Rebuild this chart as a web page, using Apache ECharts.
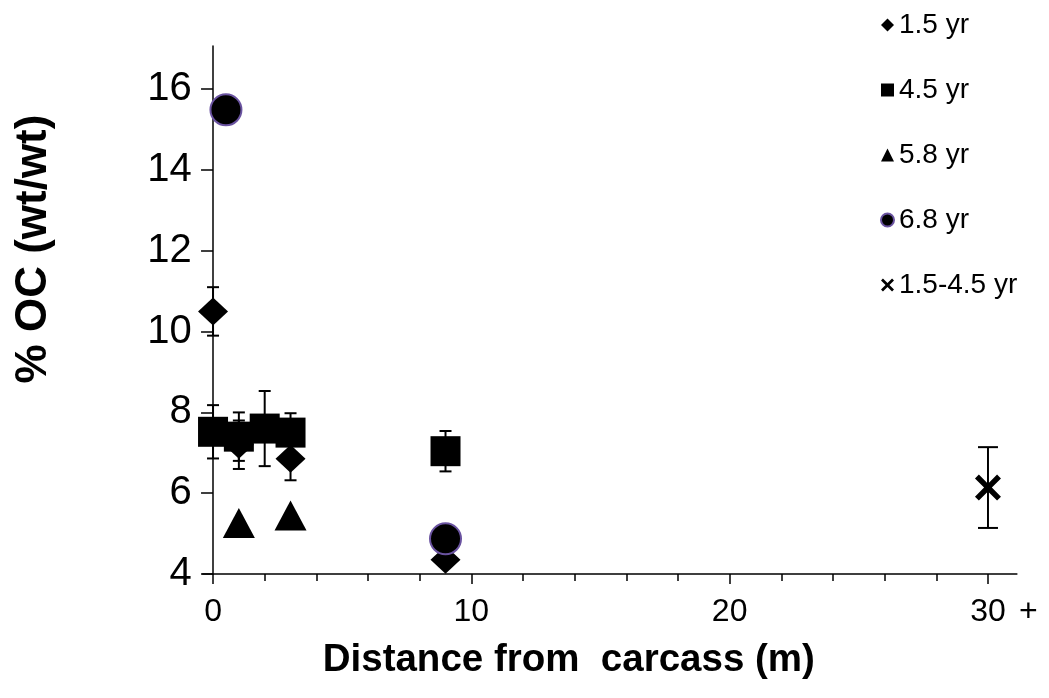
<!DOCTYPE html>
<html>
<head>
<meta charset="utf-8">
<script src="https://cdn.jsdelivr.net/npm/echarts@6/dist/echarts.min.js"></script>
<style>
html,body{margin:0;padding:0;background:#fff;}
#chart{width:1049px;height:698px;}
</style>
</head>
<body>
<div id="chart"></div>
<script>
// ---- data ----
const seriesNames = ['1.5 yr', '4.5 yr', '5.8 yr', '6.8 yr', '1.5-4.5 yr'];

const yr15X = [0, 1, 3, 9];
const yr15Y = [10.5, 7.2, 6.85, 4.35];
const yr15Err = [0.6, 0.6, 0.53, null];

const yr45X = [0, 1, 2, 3, 9];
const yr45Y = [7.52, 7.4, 7.6, 7.5, 7.04];
const yr45Err = [0.66, 0.6, 0.93, 0.48, 0.5];

const yr58X = [1, 3];
const yr58Y = [5.26, 5.45];

const yr68X = [0.5, 9];
const yr68Y = [15.49, 4.87];

const yrMixX = [30];
const yrMixY = [6.14];
const yrMixErr = [1.0];

const xLabelValues = [0, 10, 20, 30];
const xMinorTickValues = [0, 2, 4, 6, 8, 10, 12, 14, 16, 18, 20, 22, 24, 26, 28, 30];
const yTickValues = [4, 6, 8, 10, 12, 14, 16];

// ---- helpers ----
function zip(xs, ys) { return xs.map((x, i) => [x, ys[i]]); }
function zipErr(xs, ys, es) {
  const out = [];
  xs.forEach((x, i) => { if (es[i] != null) out.push([x, ys[i], es[i]]); });
  return out;
}
function errSeries(data, capHalf) {
  return {
    type: 'custom',
    silent: true,
    z: 1,
    data: data,
    encode: { x: 0, y: 1 },
    renderItem: function (params, api) {
      const x = api.value(0), y = api.value(1), e = api.value(2);
      const t = api.coord([x, y + e]);
      const b = api.coord([x, y - e]);
      const st = { stroke: '#000', lineWidth: 2 };
      return {
        type: 'group',
        children: [
          { type: 'line', shape: { x1: t[0], y1: t[1], x2: b[0], y2: b[1] }, style: st },
          { type: 'line', shape: { x1: t[0] - capHalf, y1: t[1], x2: t[0] + capHalf, y2: t[1] }, style: st },
          { type: 'line', shape: { x1: b[0] - capHalf, y1: b[1], x2: b[0] + capHalf, y2: b[1] }, style: st }
        ]
      };
    }
  };
}
const xSymbol = 'path://M1.5,0 L5,3.5 L8.5,0 L10,1.5 L6.5,5 L10,8.5 L8.5,10 L5,6.5 L1.5,10 L0,8.5 L3.5,5 L0,1.5 Z';
const FONT = '"Liberation Sans", Arial, sans-serif';

const chart = echarts.init(document.getElementById('chart'));
chart.setOption({
  animation: false,
  backgroundColor: '#fff',
  textStyle: { fontFamily: FONT, color: '#000' },
  grid: { left: 202.7, top: 46, width: 814.2, height: 528, containLabel: false, outerBoundsMode: 'none' },
  legend: {
    orient: 'vertical',
    left: 875,
    top: 5,
    itemWidth: 13,
    itemHeight: 13,
    itemGap: 35,
    data: seriesNames,
    textStyle: { fontFamily: FONT, fontSize: 28, color: '#000', lineHeight: 30 }
  },
  xAxis: [{
    type: 'value',
    min: -0.4,
    max: 31.12,
    name: 'Distance from  carcass (m)',
    nameLocation: 'middle',
    nameGap: 67,
    nameTextStyle: { fontFamily: FONT, fontSize: 38.5, fontWeight: 'bold', color: '#000', padding: [0, 82, 0, 0] },
    axisLine: { onZero: false, lineStyle: { color: '#000', width: 1.5 } },
    axisTick: { show: true, length: 10, customValues: xLabelValues, lineStyle: { color: '#000', width: 1.5 } },
    axisLabel: {
      customValues: xLabelValues,
      margin: 22,
      fontFamily: FONT,
      fontSize: 32,
      color: '#000',
      formatter: function (v) { return v === 30 ? '{p|}30{b|+}' : String(v); },
      rich: {
        p: { width: 32, fontSize: 32 },
        b: { width: 32, align: 'right', fontSize: 32, fontFamily: FONT, color: '#000' }
      }
    },
    splitLine: { show: false }
  }, {
    type: 'value',
    min: -0.4,
    max: 31.12,
    position: 'bottom',
    axisLine: { show: false },
    axisTick: { show: true, length: 7, customValues: xMinorTickValues, lineStyle: { color: '#000', width: 1.5 } },
    axisLabel: { show: false },
    splitLine: { show: false }
  }],
  yAxis: {
    type: 'value',
    min: 4,
    max: 17.07,
    name: '% OC (wt/wt)',
    nameLocation: 'middle',
    nameGap: 147,
    nameTextStyle: { fontFamily: FONT, fontSize: 44, fontWeight: 'bold', color: '#000', padding: [0, 0, 0, 122] },
    axisLine: { onZero: true, lineStyle: { color: '#000', width: 1.5 } },
    axisTick: { show: true, length: 12, customValues: yTickValues, lineStyle: { color: '#000', width: 1.5 } },
    axisLabel: { customValues: yTickValues, margin: 11, fontFamily: FONT, fontSize: 40, color: '#000' },
    splitLine: { show: false }
  },
  series: [
    errSeries(zipErr(yr15X, yr15Y, yr15Err), 6),
    errSeries(zipErr(yr45X, yr45Y, yr45Err), 6),
    errSeries(zipErr(yrMixX, yrMixY, yrMixErr), 10),
    {
      name: seriesNames[0], type: 'scatter', z: 2,
      symbol: 'diamond', symbolSize: [30, 28],
      itemStyle: { color: '#000', opacity: 1 },
      data: zip(yr15X, yr15Y)
    },
    {
      name: seriesNames[1], type: 'scatter', z: 3,
      symbol: 'rect', symbolSize: [30, 30],
      itemStyle: { color: '#000', opacity: 1 },
      data: zip(yr45X, yr45Y)
    },
    {
      name: seriesNames[2], type: 'scatter', z: 4,
      symbol: 'triangle', symbolSize: [32, 30],
      itemStyle: { color: '#000', opacity: 1 },
      data: zip(yr58X, yr58Y)
    },
    {
      name: seriesNames[3], type: 'scatter', z: 5,
      symbol: 'circle', symbolSize: 31,
      itemStyle: { color: '#000', borderColor: '#6a53a0', borderWidth: 2, opacity: 1 },
      data: zip(yr68X, yr68Y)
    },
    {
      name: seriesNames[4], type: 'scatter', z: 6,
      symbol: xSymbol, symbolSize: 26,
      itemStyle: { color: '#000', opacity: 1 },
      data: zip(yrMixX, yrMixY)
    }
  ]
});
</script>
</body>
</html>
